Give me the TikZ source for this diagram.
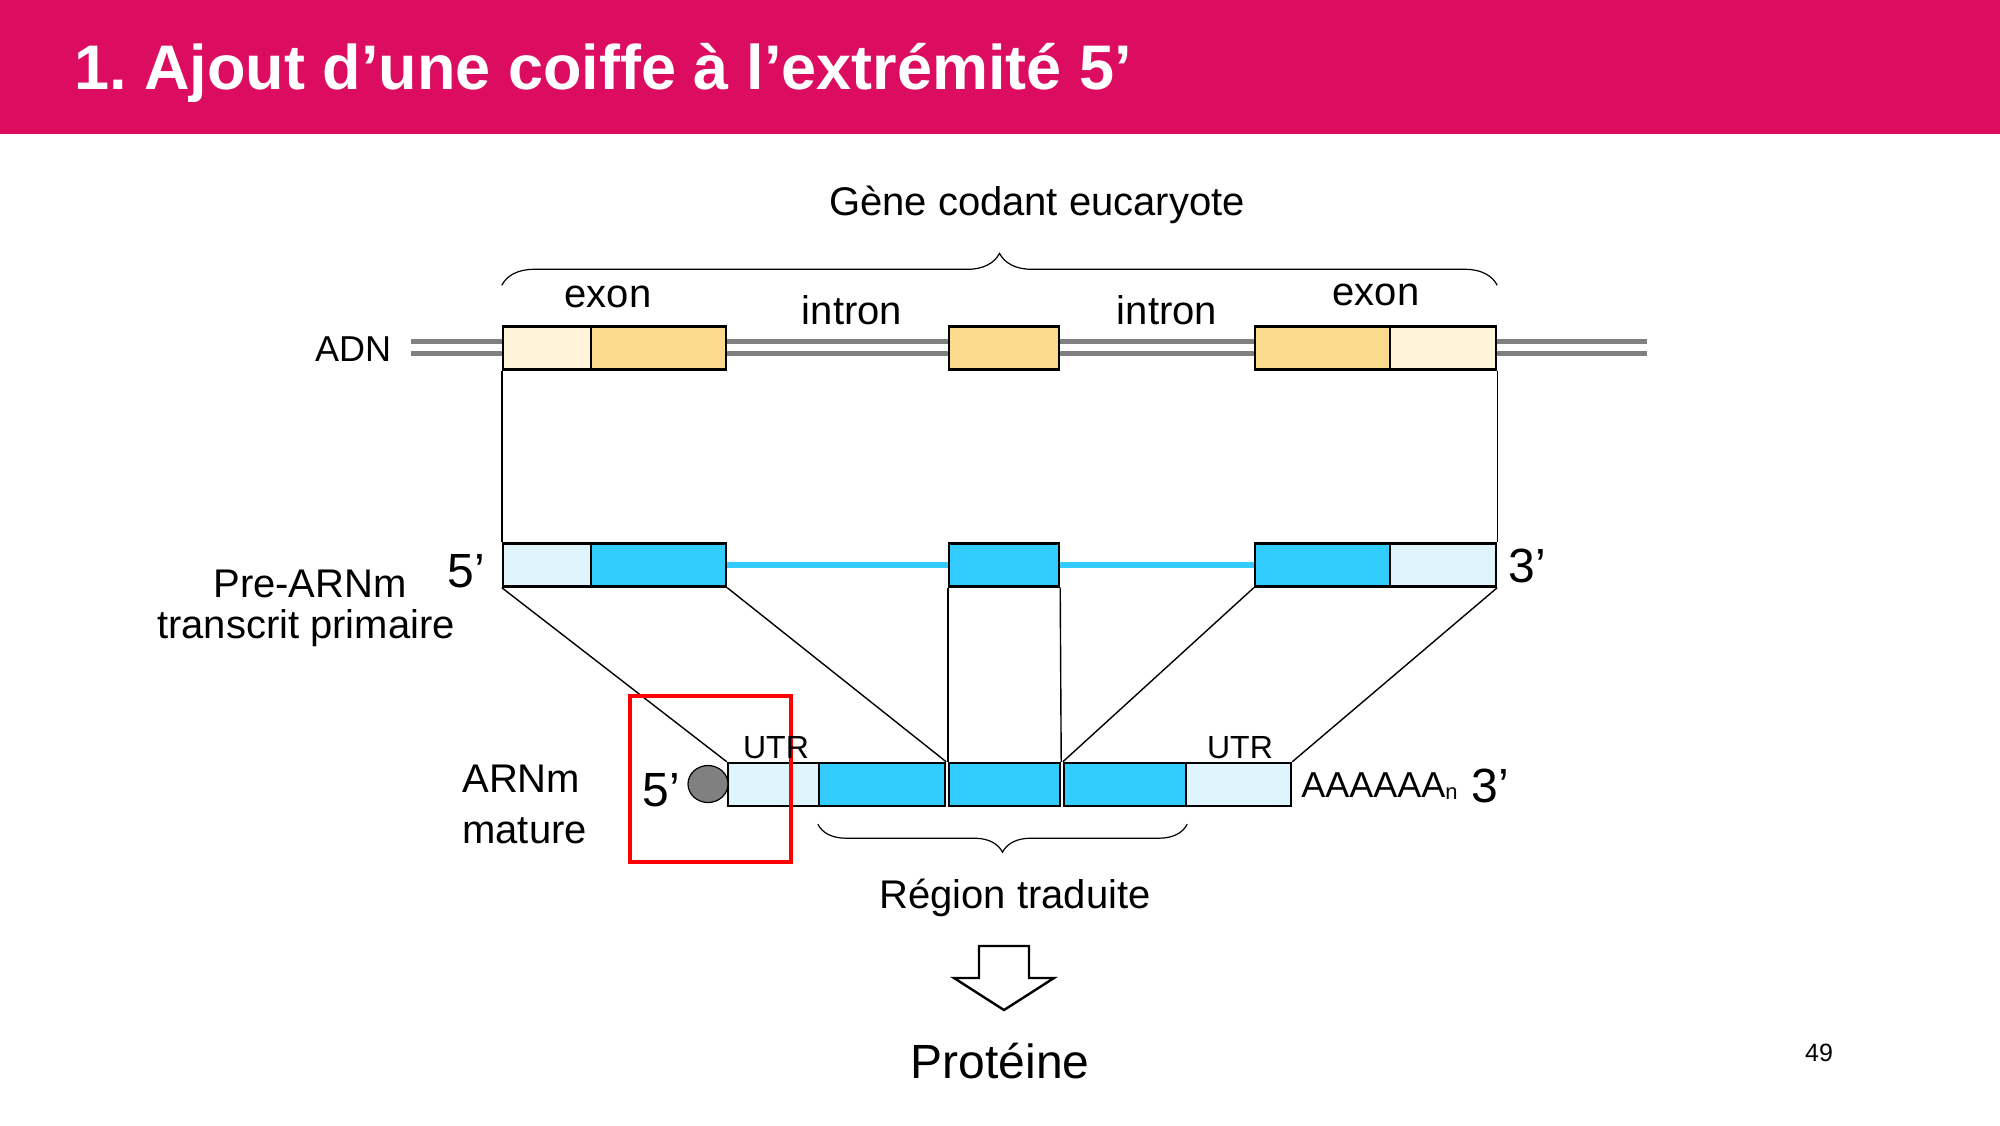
\documentclass[tikz,border=0pt]{standalone}
\usepackage{fontspec}
\setmainfont{Liberation Sans}
\usetikzlibrary{shapes.geometric,decorations.pathreplacing}
\definecolor{slidepink}{RGB}{220,12,97}
\definecolor{goldpale}{RGB}{255,243,217}
\definecolor{gold}{RGB}{250,218,140}
\definecolor{bluepale}{RGB}{222,245,253}
\definecolor{rnablue}{RGB}{51,204,255}
\definecolor{dnagray}{RGB}{128,128,128}
\begin{document}
\frenchspacing
\begin{tikzpicture}[x=0.5pt,y=-0.5pt,
  box/.style={draw,line width=1.2pt,inner sep=0pt,minimum height=21.5pt},
  link/.style={line width=0.7pt},
  lbl/.style={font=\fontsize{20}{24}\selectfont,inner sep=0pt,anchor=base},
  prime/.style={font=\fontsize{24}{28}\selectfont,inner sep=0pt,anchor=base},
  bracket/.style={decorate,line width=0.6pt}]
\useasboundingbox (0,0) rectangle (2000,1125);
\fill[slidepink] (0,0) rectangle (2000,134);
\node[anchor=base west,inner sep=0pt,text=white,font=\bfseries\fontsize{31.5}{36}\selectfont] (title) at (74,89) {1. Ajout d’une coiffe à l’extrémité 5’};

% ADN
\coordinate (adnL) at (411,347);
\coordinate (adnR) at (1647,347);
\draw[dnagray,line width=2.5pt,double=white,double distance=3.5pt] (adnL) -- (adnR);
\foreach \x/\w/\name/\col in {547/44/a1/goldpale,658.5/67.5/a2/gold,1004/55/a3/gold,1322.5/67.5/a4/gold,1443/53/a5/goldpale}
{
\node[box,fill=\col,minimum width=\w pt] (\name) at (\x,348) {};
}

% pre-ARNm
\foreach \x/\w/\name/\col in {547/44/p1/bluepale,658.5/67.5/p2/rnablue,1004/55/p3/rnablue,1322.5/67.5/p4/rnablue,1443/53/p5/bluepale}
{
\node[box,fill=\col,minimum width=\w pt] (\name) at (\x,565) {};
}
\draw[rnablue,line width=3pt] (p2.east) -- (p3.west);
\draw[rnablue,line width=3pt] (p3.east) -- (p4.west);

% ARNm mature
\foreach \x/\w/\name/\col in {773.5/45.5/m1/bluepale,882/63/m2/rnablue,1004.5/55.5/m3/rnablue,1125/61/m4/rnablue,1238.5/52.5/m5/bluepale}
{
\node[box,fill=\col,minimum width=\w pt] (\name) at (\x,784.5) {};
}
\node[ellipse,draw,fill=dnagray,line width=0.6pt,inner sep=0pt,minimum width=20pt,minimum height=18.5pt] (cap) at (708,784) {};

\draw[link] (a1.south west) -- (p1.north west);
\draw[link] (a5.south east) -- (p5.north east);
\draw[link] (p1.south west) -- (m1.north west);
\draw[link] (p2.south east) -- (m2.north east);
\draw[link] (p3.south west) -- (m3.north west);
\draw[link] (p3.south east) -- (m3.north east);
\draw[link] (p4.south west) -- (m4.north west);
\draw[link] (p5.south east) -- (m5.north east);

% accolades
\draw[bracket,decoration={brace,amplitude=16pt}] ([yshift=20pt]a1.north west) -- ([yshift=20pt]a5.north east);
\draw[bracket,decoration={brace,amplitude=14pt}] ([yshift=-8.5pt]m4.south east) -- ([yshift=-8.5pt]m2.south west);

\node[draw=red,line width=2pt,inner sep=0pt,minimum width=80.5pt,minimum height=83pt] (focus) at (710.5,779) {};

% textes
\node[lbl] (gene) at (1037,215) {Gène codant eucaryote};
\node[lbl] (exon1) at (608,307) {exon};
\node[lbl] (intron1) at (852,324) {intron};
\node[lbl] (intron2) at (1167,324) {intron};
\node[lbl] (exon2) at (1376,305) {exon};
\node[lbl,font=\fontsize{18}{22}\selectfont] (adn) at (353,361) {ADN};
\node[lbl] (pre) at (310,597) {Pre-ARNm};
\node[lbl] (primaire) at (306,638) {transcrit primaire};
\node[prime] (five1) at (466,587) {5’};
\node[prime,anchor=base west] (three1) at (1508,582) {3’};
\node[lbl,anchor=base west] (arnm) at (462,792) {ARNm};
\node[lbl,anchor=base west] (mature) at (462,843) {mature};
\node[lbl,font=\fontsize{16}{19}\selectfont] (utr1) at (776,758) {UTR};
\node[lbl,font=\fontsize{16}{19}\selectfont] (utr2) at (1240,758) {UTR};
\node[prime] (five2) at (661,806) {5’};
\node[lbl,anchor=base west,font=\fontsize{18}{22}\selectfont] (polya) at (1301,797) {AAAAAA\raisebox{-1pt}{\fontsize{11}{12}\selectfont n}};
\node[prime,anchor=base west] (three2) at (1471,802) {3’};
\node[lbl] (region) at (1015,908) {Région traduite};
\node[prime] (proteine) at (1000,1078) {Protéine};
\node[lbl,font=\fontsize{12.5}{15}\selectfont] (page) at (1819,1061) {49};

% fleche
\draw[line width=1.2pt,fill=white] (979,946) -- (1029,946) -- (1029,978) -- (1054,978) -- (1004,1010) -- (954,978) -- (979,978) -- cycle;
\end{tikzpicture}
\end{document}
